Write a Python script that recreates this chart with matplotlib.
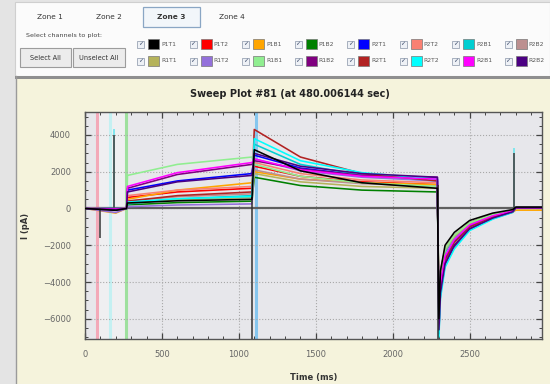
import matplotlib
matplotlib.use("Agg")
import matplotlib.pyplot as plt
from matplotlib.patches import Rectangle
from matplotlib.ticker import MultipleLocator

# ---- channel data (pA) ----
row1_names = ['P1T1', 'P1T2', 'P1B1', 'P1B2', 'P2T1', 'P2T2', 'P2B1', 'P2B2']
row2_names = ['R1T1', 'R1T2', 'R1B1', 'R1B2', 'R2T1', 'R2T2', 'R2B1', 'R2B2']
row1_colors = ['black', 'red', 'orange', 'green', 'blue', 'salmon', 'darkturquoise', 'rosybrown']
row2_colors = ['#b5b35a', 'mediumpurple', 'lightgreen', 'purple', 'firebrick', 'cyan', 'magenta', 'indigo']
colors = row1_colors + row2_colors

# step 1 (275-1085 ms)
plateau_start = [300, 600, 500, 200, 1000, 700, 250, 400, 300, 100, 1800, 1100, 400, 350, 1200, 900]
plateau_mid = [420, 900, 1000, 320, 1500, 1000, 520, 640, 480, 190, 2400, 1850, 700, 530, 1950, 1450]
plateau_end = [500, 1100, 1400, 400, 1900, 1200, 700, 800, 600, 250, 2800, 2400, 900, 650, 2500, 1800]
# step 2 (1100-2290 ms)
peak = [3200, 2300, 2000, 1700, 2900, 2500, 3500, 2100, 1900, 2700, 2400, 2600, 4300, 3800, 2700, 3000]
decay_1400 = [2050, 1750, 1600, 1250, 2200, 1900, 2400, 1600, 1450, 2050, 1750, 2150, 2800, 2600, 2100, 2300]
decay_1800 = [1400, 1450, 1400, 1000, 1800, 1550, 1800, 1350, 1200, 1700, 1400, 1800, 1900, 1950, 1750, 1900]
step2_end = [1100, 1300, 1300, 900, 1600, 1400, 1500, 1200, 1100, 1500, 1200, 1700, 1500, 1600, 1600, 1700]
# tail after 2300 ms
tail_min = [-6000, -5600, -5800, -5200, -6200, -5000, -5400, -5300, -5100, -6500, -5000, -6800, -6300, -7000, -6000, -6600]
tail_2310 = [-3400, -3700, -4000, -3500, -4200, -3400, -3700, -3600, -3500, -4500, -3400, -4700, -4300, -4900, -4100, -4600]
tail_2340 = [-2000, -2300, -2600, -2200, -2700, -2200, -2400, -2300, -2200, -2900, -2200, -3100, -2800, -3200, -2600, -3000]
tail_2400 = [-1300, -1500, -1800, -1500, -1800, -1450, -1600, -1550, -1500, -2000, -1450, -2100, -1850, -2200, -1700, -2000]
tail_2500 = [-650, -800, -1000, -780, -950, -780, -850, -820, -780, -1100, -780, -1150, -1000, -1200, -900, -1100]
tail_2650 = [-250, -330, -480, -330, -400, -330, -370, -350, -330, -520, -330, -550, -450, -580, -400, -520]
tail_2780 = [-60, -100, -200, -100, -130, -100, -120, -110, -100, -180, -100, -200, -150, -210, -130, -180]
pre_dip = [-100, -50, -250, -40, 0, -30, -60, -20, -40, -220, 0, -80, -30, -50, -20, -60]
post_level = [80, 30, -90, 20, 40, 20, 30, 20, 10, 40, 10, 50, 30, 40, 30, 40]

times = [0, 200, 270, 276, 600, 1085, 1100, 1400, 1800, 2290, 2300, 2310, 2340, 2400, 2500, 2650, 2780, 2800, 2970]

# spikes / transients
spike_t = [97, 190, 2790]
spike_black = [-1600, 4000, 3000]
spike_cyan = [0, 4300, 3300]
cursor_t = [75, 165, 268, 1112]
cursor_colors = ['#f3a9b8', '#c4f0f2', '#9ee09e', '#86c6ee']

W, H = 550, 384
fig = plt.figure(figsize=(W / 100, H / 100), dpi=100, facecolor='#e4e4e4')

# ---- GUI chrome drawn in pixel coords ----
ui = fig.add_axes([0, 0, 1, 1], zorder=0)
ui.set_xlim(0, W)
ui.set_ylim(H, 0)
ui.axis('off')
ui.add_patch(Rectangle((15, 2), 535, 74, fc='#fbfbfb', ec='#cfcfcf', lw=0.8))
ui.add_patch(Rectangle((15, 76), 535, 3, fc='#8f8f8f', ec='none'))
ui.add_patch(Rectangle((17, 79), 533, 305, fc='#f5f3dc', ec='none'))
ui.plot([16, 16], [76, 384], color='#9a9a9a', lw=1)

tabs = ['Zone 1', 'Zone 2', 'Zone 3', 'Zone 4']
tab_x = [50, 109, 171, 232]
ui.add_patch(Rectangle((143, 7), 57, 20, fc='#f2f6fa', ec='#8aa6c4', lw=0.9))
for name, x in zip(tabs, tab_x):
    ui.text(x, 17, name, ha='center', va='center', fontsize=5.3, color='#333',
            fontweight='bold' if name == 'Zone 3' else 'normal')

ui.text(26, 36, 'Select channels to plot:', fontsize=4.6, color='#444', va='center')
for x0, w, lab in [(20, 51, 'Select All'), (73, 52, 'Unselect All')]:
    ui.add_patch(Rectangle((x0, 48), w, 19, fc='#ececec', ec='#9c9c9c', lw=0.8))
    ui.text(x0 + w / 2, 57.5, lab, ha='center', va='center', fontsize=4.8, color='#333')

for row, (names, cols, yc) in enumerate([(row1_names, row1_colors, 44), (row2_names, row2_colors, 61)]):
    for i, (nm, c) in enumerate(zip(names, cols)):
        sx = 148 + 52.5 * i
        ui.add_patch(Rectangle((sx - 11, yc - 3.5), 7, 7, fc='#eef1f6', ec='#9aa4b4', lw=0.6))
        ui.text(sx - 7.5, yc, '\u2713', ha='center', va='center', fontsize=4.5, color='#3a4a6a')
        ui.add_patch(Rectangle((sx, yc - 5), 11, 10, fc=c, ec='#777', lw=0.5))
        ui.text(sx + 13, yc, nm, va='center', fontsize=4.3, color='#555')

ui.text(290, 94, 'Sweep Plot #81 (at 480.006144 sec)', ha='center', va='center',
        fontsize=7, fontweight='bold', color='#222')

# ---- plot ----
ax = fig.add_axes([85 / W, 1 - 339 / H, 457 / W, 227 / H], zorder=1)
ax.set_facecolor('#e7e7eb')
ax.set_xlim(0, 2970)
ax.set_ylim(-7100, 5250)

ax.axvspan(cursor_t[0], cursor_t[2], color='white', alpha=0.35, lw=0)
for t, c in zip(cursor_t, cursor_colors):
    ax.axvline(t, color=c, lw=2.2, zorder=1.5)
ax.axhline(0, color='#606060', lw=1.6, zorder=1.8)

for i, c in enumerate(colors):
    vals = [0, pre_dip[i], 0, plateau_start[i], plateau_mid[i], plateau_end[i],
            peak[i], decay_1400[i], decay_1800[i], step2_end[i],
            tail_min[i], tail_2310[i], tail_2340[i], tail_2400[i], tail_2500[i],
            tail_2650[i], tail_2780[i], post_level[i], post_level[i]]
    ax.plot(times, vals, color=c, lw=1.15, zorder=2 + (i == 0))

ax.vlines(spike_t, 0, spike_cyan, color='#7fe6ee', lw=1.4, zorder=2.5)
ax.vlines(spike_t, 0, spike_black, color='#444', lw=1.2, zorder=2.6)
ax.vlines([1088, 2292], -7300, [600, 1300], color='#333', lw=1.1, zorder=2.6)

ax.xaxis.set_major_locator(MultipleLocator(500))
ax.xaxis.set_minor_locator(MultipleLocator(100))
ax.yaxis.set_major_locator(MultipleLocator(2000))
ax.yaxis.set_minor_locator(MultipleLocator(500))
ax.tick_params(which='both', direction='in', top=True, right=True, colors='#444',
               labelcolor='#666', labelsize=6)
ax.tick_params(which='major', length=4, width=0.9)
ax.tick_params(which='minor', length=2, width=0.7)
ax.tick_params(axis='x', pad=8)
ax.tick_params(axis='y', pad=10)
ax.grid(True, which='major', linestyle=':', color='#a8a8a8', lw=0.8)
for s in ax.spines.values():
    s.set_color('#555')
    s.set_linewidth(1)

ax.set_xlabel('Time (ms)', fontsize=6, fontweight='bold', color='#333')
ax.set_ylabel('I (pA)', fontsize=6, fontweight='bold', color='#333')
ax.xaxis.set_label_coords(0.5, -0.15)
ax.yaxis.set_label_coords(-0.12, 0.5)

fig.savefig('out.png', dpi=100, facecolor=fig.get_facecolor())
